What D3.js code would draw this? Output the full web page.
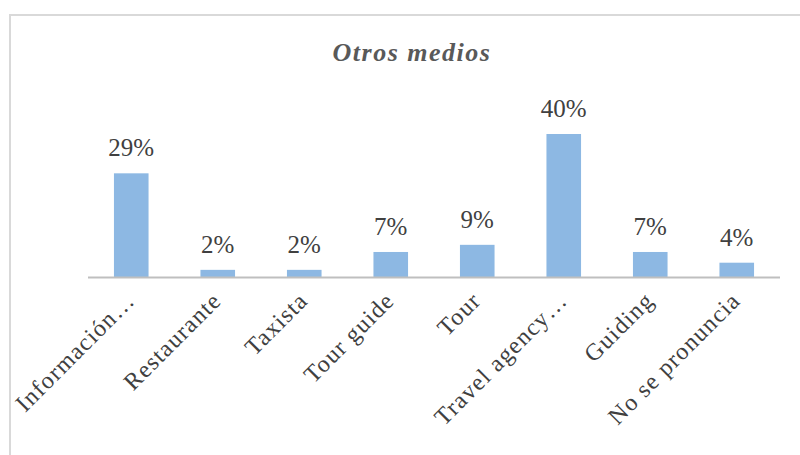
<!DOCTYPE html>
<html>
<head>
<meta charset="utf-8">
<script src="https://cdn.jsdelivr.net/npm/d3@7"></script>
<style>
  body { margin: 0; background: #fff; }
  svg { display: block; }
</style>
</head>
<body>
<svg id="chart" width="800" height="455"></svg>
<script>
// data
const categories = ["Información…", "Restaurante", "Taxista", "Tour guide", "Tour", "Travel agency…", "Guiding", "No se pronuncia"];
const values = [29, 2, 2, 7, 9, 40, 7, 4];
const title = "Otros medios";

const svg = d3.select("#chart");
const serif = "'Liberation Serif', 'Times New Roman', serif";

// chart frame
svg.append("path")
    .attr("d", "M10,460 V15 H800")
    .attr("fill", "none")
    .attr("stroke", "#d9d9d9")
    .attr("stroke-width", 2);

const x = d3.scaleBand()
    .domain(categories)
    .range([88, 780])
    .paddingInner(0.6)
    .paddingOuter(0.3);

const y = d3.scaleLinear()
    .domain([0, 40])
    .range([277, 134]);

// bars
svg.selectAll("rect.bar")
    .data(values)
    .enter()
    .append("rect")
        .attr("class", "bar")
        .attr("x", (d, i) => x(categories[i]))
        .attr("y", d => y(d))
        .attr("width", x.bandwidth())
        .attr("height", d => y(0) - y(d))
        .style("fill", "#8db8e3");

// value labels
svg.selectAll("text.val")
    .data(values)
    .enter()
    .append("text")
        .attr("class", "val")
        .attr("x", (d, i) => x(categories[i]) + x.bandwidth() / 2)
        .attr("y", d => y(d) - 17)
        .attr("text-anchor", "middle")
        .style("font-family", serif)
        .style("font-size", "25px")
        .style("fill", "#404040")
        .text(d => d + "%");

// x axis (line only, labels rotated)
const xAxis = svg.append("g")
    .attr("transform", `translate(0,${y(0)})`)
    .call(d3.axisBottom(x).tickSize(0).tickPadding(0));
xAxis.select(".domain")
    .attr("d", "M88,0.5H780")
    .attr("stroke", "#bfbfbf")
    .attr("stroke-width", 2);
xAxis.selectAll(".tick text")
    .attr("text-anchor", "end")
    .attr("dy", 0)
    .attr("transform", "translate(5,25) rotate(-45)")
    .style("font-family", serif)
    .style("font-size", "24px")
    .style("letter-spacing", "1.2px")
    .style("fill", "#404040");

// title
svg.append("text")
    .attr("x", 412)
    .attr("y", 61)
    .attr("text-anchor", "middle")
    .style("font-family", serif)
    .style("font-size", "26px")
    .style("font-weight", "bold")
    .style("font-style", "italic")
    .style("letter-spacing", "1.5px")
    .style("fill", "#595959")
    .text(title);
</script>
</body>
</html>
